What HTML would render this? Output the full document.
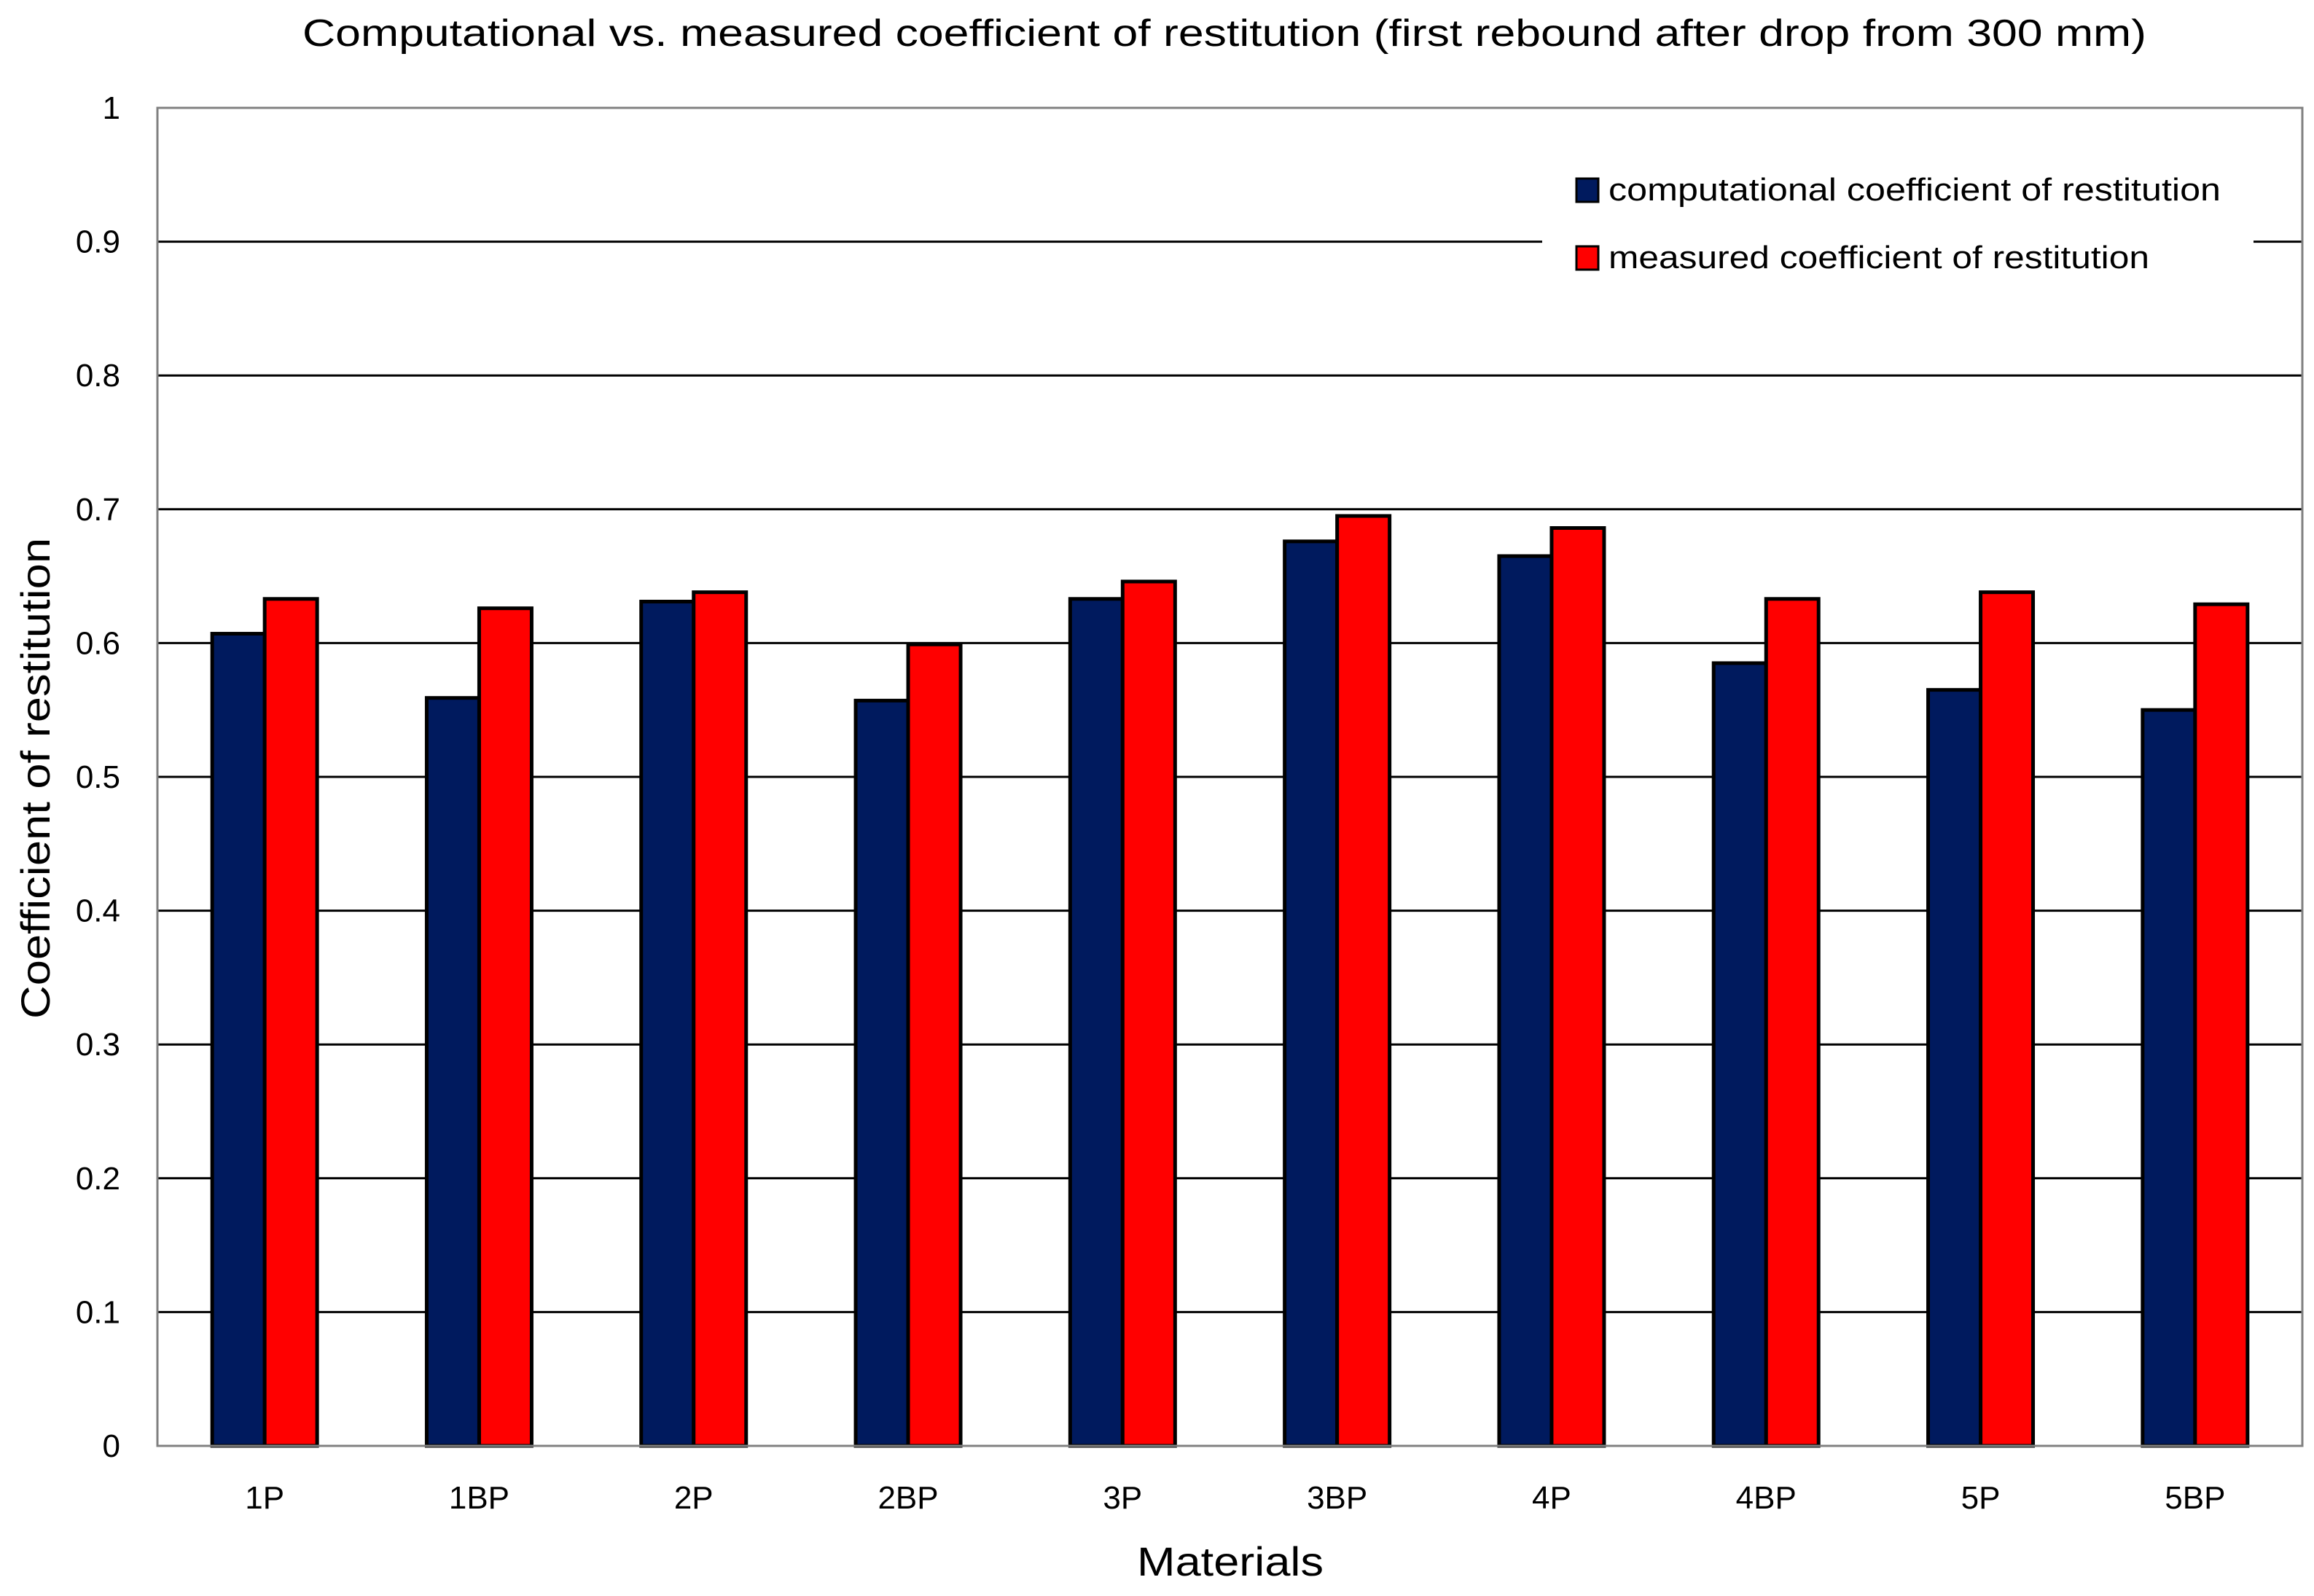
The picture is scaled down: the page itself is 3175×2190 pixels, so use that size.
<!DOCTYPE html>
<html><head><meta charset="utf-8"><style>
html,body{margin:0;padding:0;background:#fff;}
svg{display:block;}
text{font-family:"Liberation Sans",sans-serif;fill:#000;}
</style></head><body>
<svg id="chart" width="3175" height="2190" viewBox="0 0 3175 2190" xmlns="http://www.w3.org/2000/svg">
<text x="1680" y="63" font-size="52" text-anchor="middle" textLength="2530" lengthAdjust="spacingAndGlyphs">Computational vs. measured coefficient of restitution (first rebound after drop from 300 mm)</text>
<g id="grid"></g>
<g id="bars"></g>
<rect x="216" y="148" width="2943" height="1836" fill="none" stroke="#808080" stroke-width="3"/>
<g id="yticks"></g>
<g id="xticks"></g>
<text x="1688" y="2162" font-size="56" text-anchor="middle" textLength="256" lengthAdjust="spacingAndGlyphs">Materials</text>
<text transform="translate(68,1068) rotate(-90)" font-size="56" text-anchor="middle" textLength="660" lengthAdjust="spacingAndGlyphs">Coefficient of restitution</text>
<g>
<rect x="2116" y="205" width="976" height="190" fill="#fff"/>
<rect x="2163" y="245" width="30" height="32" fill="#001a5e" stroke="#000" stroke-width="3"/>
<text x="2207" y="275" font-size="44" textLength="840" lengthAdjust="spacingAndGlyphs">computational coefficient of restitution</text>
<rect x="2163" y="338" width="30" height="32" fill="#ff0000" stroke="#000" stroke-width="3"/>
<text x="2207" y="368" font-size="44" textLength="742" lengthAdjust="spacingAndGlyphs">measured coefficient of restitution</text>
</g>
</svg>
<script>
const categories = ["1P","1BP","2P","2BP","3P","3BP","4P","4BP","5P","5BP"];
const computational = [0.607,0.559,0.631,0.557,0.633,0.676,0.665,0.585,0.565,0.550];
const measured = [0.633,0.626,0.638,0.599,0.646,0.695,0.686,0.633,0.638,0.629];
const yTicks = [0,0.1,0.2,0.3,0.4,0.5,0.6,0.7,0.8,0.9,1];
const yTickLabels = ["0","0.1","0.2","0.3","0.4","0.5","0.6","0.7","0.8","0.9","1"];

const NS = "http://www.w3.org/2000/svg";
const L = 216, R = 3159, T = 148, B = 1984;
const band = (R - L) / categories.length;
const barW = 72;
function y(v){ return B - (v - 0) / (1 - 0) * (B - T); }
function xc(i){ return L + band * (i + 0.5); }
function mk(tag, attrs, parent){ const e = document.createElementNS(NS, tag); for (const k in attrs) e.setAttribute(k, attrs[k]); parent.appendChild(e); return e; }

const grid = document.getElementById('grid');
const yt = document.getElementById('yticks');
yTicks.forEach((t, i) => {
  if (t > 0 && t < 1) {
    const ln = mk('line', {x1: L, x2: R, y1: y(t), y2: y(t), stroke: '#000', 'stroke-width': 3}, grid);
    
    
  }
  const tx = mk('text', {x: 165, y: y(t) + 15, 'font-size': 44, 'text-anchor': 'end'}, yt);
  tx.textContent = yTickLabels[i];
  
  
});

const bars = document.getElementById('bars');
const xt = document.getElementById('xticks');
categories.forEach((c, i) => {
  const cx = xc(i);
  const b1 = mk('rect', {x: cx - barW, y: y(computational[i]), width: barW, height: y(0) - y(computational[i]), fill: '#001a5e', stroke: '#000', 'stroke-width': 5}, bars);
  
  
  const b2 = mk('rect', {x: cx, y: y(measured[i]), width: barW, height: y(0) - y(measured[i]), fill: '#ff0000', stroke: '#000', 'stroke-width': 5}, bars);
  
  
  const tx = mk('text', {x: cx, y: 2070, 'font-size': 44, 'text-anchor': 'middle'}, xt);
  tx.textContent = c;
  
  
});
</script>
</body></html>
